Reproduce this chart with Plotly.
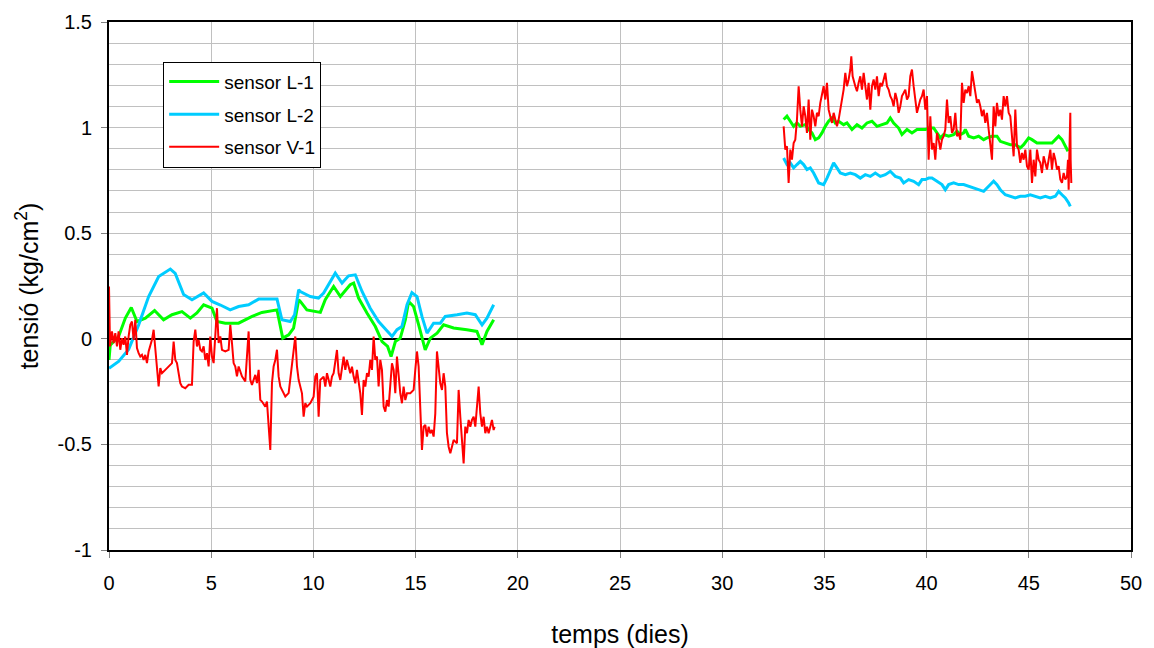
import plotly.graph_objects as go

# ---------------- data (time in days, tension in kg/cm2) ----------------
# sensor L-1 (green)
l1_a_t = [0.0, 0.06, 0.47, 0.80, 1.09, 1.37, 1.78, 2.23, 2.67, 3.08, 3.57, 3.98, 4.30, 4.63, 5.04, 5.28, 5.69, 6.34,
          7.00, 7.48, 8.22, 8.38, 8.50, 8.79, 9.03, 9.28, 9.36, 9.68, 10.34, 10.58, 10.99, 11.32, 11.80, 11.97, 12.21,
          12.62, 13.03, 13.36, 13.63, 13.80, 14.01, 14.25, 14.50, 14.66, 14.90, 15.15, 15.47, 15.72, 16.05, 16.37,
          16.86, 17.51, 18.00, 18.25, 18.49, 18.82]
l1_a_v = [-0.10, -0.03, 0.011, 0.098, 0.148, 0.082, 0.098, 0.134, 0.090, 0.114, 0.129, 0.098, 0.122, 0.161, 0.145,
          0.082, 0.074, 0.074, 0.106, 0.125, 0.137, 0.066, 0.003, 0.019, 0.051, 0.185, 0.177, 0.137, 0.125, 0.185,
          0.248, 0.200, 0.256, 0.264, 0.193, 0.122, 0.058, -0.013, -0.036, -0.084, -0.013, 0.003, 0.090, 0.177, 0.153,
          0.066, -0.052, 0.003, 0.027, 0.066, 0.051, 0.043, 0.035, -0.028, 0.035, 0.090]
l1_b_t = [33.006, 33.169, 33.332, 33.495, 33.658, 33.821, 34.066, 34.229, 34.392, 34.555, 34.718, 34.881, 35.044,
          35.207, 35.37, 35.533, 35.696, 35.941, 36.104, 36.349, 36.594, 36.838, 37.083, 37.327, 37.572, 37.817,
          38.061, 38.224, 38.387, 38.632, 38.795, 39.04, 39.284, 39.529, 39.773, 39.937, 40.1, 40.345, 40.508, 40.671,
          40.834, 41.079, 41.323, 41.486, 41.649, 41.812, 41.894, 42.057, 42.302, 42.546, 42.791, 42.954, 43.199,
          43.443, 43.606, 43.851, 44.096, 44.34, 44.585, 44.748, 44.993, 45.156, 45.4, 45.645, 45.89, 46.134, 46.297,
          46.46, 46.623, 46.786, 46.917]
l1_b_v = [1.038, 1.054, 1.030, 1.006, 1.022, 1.006, 1.014, 0.991, 0.975, 0.943, 0.951, 0.975, 1.006, 1.030, 1.046,
          1.022, 1.030, 1.014, 1.022, 0.991, 1.014, 0.998, 1.022, 1.030, 1.006, 1.014, 1.022, 1.046, 1.022, 0.998,
          0.967, 0.991, 0.975, 0.991, 0.991, 0.991, 0.998, 0.998, 0.975, 0.951, 0.967, 0.959, 0.967, 0.983, 0.967,
          0.975, 0.991, 0.959, 0.951, 0.959, 0.943, 0.951, 0.959, 0.959, 0.935, 0.927, 0.919, 0.919, 0.904, 0.919,
          0.951, 0.943, 0.927, 0.927, 0.927, 0.927, 0.943, 0.959, 0.943, 0.912, 0.888]

# sensor L-2 (light blue)
l2_a_t = [0.0, 0.47, 0.96, 1.45, 1.94, 2.43, 3.00, 3.24, 3.65, 4.06, 4.63, 5.04, 5.45, 5.93, 6.34, 6.83, 7.32, 8.22,
          8.46, 8.87, 9.08, 9.28, 9.36, 9.85, 10.25, 10.50, 11.07, 11.40, 11.72, 12.05, 12.38, 12.78, 13.19, 13.60,
          13.85, 14.09, 14.33, 14.58, 14.82, 15.07, 15.31, 15.56, 15.88, 16.21, 16.45, 17.03, 17.51, 17.92, 18.25,
          18.49, 18.82]
l2_a_v = [-0.14, -0.107, -0.05, 0.066, 0.200, 0.295, 0.330, 0.310, 0.210, 0.185, 0.217, 0.177, 0.160, 0.137, 0.153,
          0.161, 0.188, 0.188, 0.090, 0.082, 0.114, 0.232, 0.224, 0.200, 0.193, 0.217, 0.311, 0.264, 0.298, 0.303,
          0.224, 0.145, 0.082, 0.035, 0.011, 0.043, 0.058, 0.161, 0.219, 0.200, 0.106, 0.027, 0.074, 0.074, 0.106,
          0.114, 0.122, 0.114, 0.066, 0.098, 0.161]
l2_b_t = [33.006, 33.169, 33.332, 33.495, 33.658, 33.821, 33.984, 34.147, 34.31, 34.473, 34.718, 34.963, 35.126,
          35.289, 35.452, 35.615, 35.778, 36.023, 36.267, 36.512, 36.756, 37.001, 37.246, 37.49, 37.735, 37.98,
          38.224, 38.469, 38.714, 38.877, 39.121, 39.366, 39.61, 39.774, 39.937, 40.1, 40.263, 40.508, 40.752, 40.915,
          41.079, 41.323, 41.568, 41.812, 42.057, 42.302, 42.546, 42.791, 43.036, 43.28, 43.443, 43.606, 43.851,
          44.096, 44.34, 44.585, 44.83, 45.074, 45.319, 45.563, 45.808, 46.053, 46.297, 46.46, 46.623, 46.786, 46.95,
          47.031]
l2_b_v = [0.856, 0.825, 0.833, 0.809, 0.825, 0.840, 0.825, 0.801, 0.809, 0.785, 0.738, 0.730, 0.761, 0.801, 0.833,
          0.809, 0.785, 0.777, 0.785, 0.777, 0.761, 0.777, 0.769, 0.785, 0.769, 0.777, 0.793, 0.769, 0.761, 0.738,
          0.754, 0.746, 0.730, 0.754, 0.754, 0.761, 0.761, 0.746, 0.730, 0.706, 0.730, 0.738, 0.730, 0.730, 0.722,
          0.714, 0.706, 0.698, 0.722, 0.746, 0.730, 0.706, 0.682, 0.675, 0.667, 0.675, 0.675, 0.682, 0.675, 0.667,
          0.675, 0.667, 0.675, 0.698, 0.682, 0.667, 0.643, 0.627]

# sensor V-1 (red)
v1_a_t = [0.0, 0.05, 0.145, 0.227, 0.308, 0.39, 0.471, 0.553, 0.634, 0.716, 0.797, 0.879, 0.96, 1.042, 1.124, 1.205,
          1.287, 1.368, 1.45, 1.531, 1.613, 1.694, 1.776, 1.857, 1.939, 2.102, 2.184, 2.265, 2.347, 2.428, 2.51, 2.591,
          2.754, 2.918, 3.081, 3.162, 3.244, 3.325, 3.407, 3.488, 3.57, 3.733, 3.896, 4.059, 4.141, 4.222, 4.304,
          4.385, 4.467, 4.548, 4.63, 4.711, 4.793, 4.874, 4.956, 5.037, 5.119, 5.2, 5.282, 5.364, 5.445, 5.527, 5.69,
          5.853, 5.934, 6.016, 6.097, 6.179, 6.26, 6.342, 6.505, 6.668, 6.831, 6.913, 6.994, 7.158, 7.239, 7.321,
          7.402, 7.484, 7.647, 7.728, 7.81, 7.891, 7.973, 8.054, 8.136, 8.218, 8.299, 8.381, 8.462, 8.625, 8.788,
          8.951, 9.033, 9.114, 9.196, 9.278, 9.441, 9.522, 9.604, 9.685, 9.848, 10.011, 10.093, 10.174, 10.256,
          10.337, 10.501, 10.582, 10.664, 10.827, 10.908, 10.99, 11.153, 11.234, 11.316, 11.397, 11.479, 11.561,
          11.642, 11.805, 11.887, 11.968, 12.05, 12.131, 12.213, 12.294, 12.376, 12.457, 12.539, 12.621, 12.702,
          12.784, 12.865, 12.947, 13.028, 13.11, 13.191, 13.273, 13.354, 13.436, 13.518, 13.599, 13.681, 13.762,
          13.844, 13.925, 14.007, 14.088, 14.17, 14.251, 14.333, 14.414, 14.496, 14.578, 14.741, 14.904, 14.985,
          15.067, 15.148, 15.23, 15.311, 15.393, 15.474, 15.556, 15.638, 15.719, 15.801, 15.882, 15.964, 16.045,
          16.127, 16.208, 16.29, 16.371, 16.453, 16.534, 16.616, 16.698, 16.779, 16.861, 17.024, 17.105, 17.187,
          17.268, 17.35, 17.431, 17.513, 17.595, 17.676, 17.758, 17.839, 17.921, 18.002, 18.084, 18.165, 18.247,
          18.328, 18.41, 18.491, 18.573, 18.654, 18.736, 18.818, 18.867]
v1_a_v = [0.248, -0.036, 0.035, -0.020, 0.027, -0.036, 0.035, -0.052, 0.003, -0.028, 0.011, -0.076, 0.011, 0.066,
          0.082, -0.005, 0.090, -0.044, -0.068, -0.084, -0.076, -0.100, -0.076, -0.115, -0.060, -0.005, 0.043, -0.036,
          -0.131, -0.226, -0.139, -0.163, -0.147, -0.131, -0.115, -0.013, -0.100, -0.115, -0.171, -0.210, -0.226,
          -0.234, -0.218, -0.218, -0.013, 0.043, -0.036, -0.005, -0.052, -0.060, -0.036, -0.100, -0.068, -0.131, 0.011,
          -0.084, -0.115, -0.005, 0.145, -0.020, 0.011, -0.052, -0.060, -0.052, 0.066, -0.020, -0.115, -0.131, -0.178,
          -0.131, -0.178, -0.202, 0.035, -0.194, -0.218, -0.171, -0.210, -0.147, -0.289, -0.297, -0.321, -0.297,
          -0.431, -0.526, -0.210, -0.131, -0.100, -0.052, -0.178, -0.226, -0.242, -0.273, -0.257, -0.115, -0.052,
          0.011, -0.131, -0.194, -0.258, -0.369, -0.305, -0.321, -0.305, -0.274, -0.179, -0.163, -0.369, -0.195,
          -0.179, -0.226, -0.163, -0.226, -0.179, -0.163, -0.053, -0.163, -0.195, -0.132, -0.084, -0.147, -0.100,
          -0.163, -0.132, -0.179, -0.211, -0.147, -0.195, -0.258, -0.361, -0.195, -0.226, -0.163, -0.179, -0.100,
          -0.147, 0.011, -0.100, -0.084, -0.226, -0.100, -0.147, -0.321, -0.345, -0.290, -0.321, -0.226, -0.116,
          -0.147, -0.258, -0.084, -0.179, -0.258, -0.305, -0.226, -0.290, -0.258, -0.258, -0.242, -0.147, -0.060,
          -0.132, -0.384, -0.526, -0.416, -0.408, -0.463, -0.416, -0.447, -0.432, -0.463, -0.353, -0.060, -0.147,
          -0.211, -0.242, -0.163, -0.226, -0.447, -0.511, -0.542, -0.511, -0.479, -0.495, -0.242, -0.369, -0.511,
          -0.590, -0.416, -0.447, -0.384, -0.416, -0.384, -0.369, -0.416, -0.321, -0.226, -0.353, -0.416, -0.369,
          -0.447, -0.416, -0.447, -0.416, -0.384, -0.432, -0.416]
v1_b_t = [33.006, 33.087, 33.169, 33.25, 33.332, 33.413, 33.495, 33.576, 33.658, 33.74, 33.821, 33.903, 33.984,
          34.066, 34.147, 34.229, 34.31, 34.392, 34.473, 34.555, 34.636, 34.718, 34.8, 34.881, 34.963, 35.044,
          35.126, 35.207, 35.289, 35.37, 35.452, 35.533, 35.615, 35.696, 35.778, 35.86, 35.941, 36.023, 36.104,
          36.186, 36.267, 36.316, 36.381, 36.512, 36.594, 36.675, 36.756, 36.838, 36.92, 37.001, 37.083, 37.164,
          37.246, 37.327, 37.409, 37.49, 37.572, 37.654, 37.735, 37.817, 37.898, 37.98, 38.061, 38.143, 38.224,
          38.306, 38.387, 38.469, 38.55, 38.632, 38.714, 38.795, 38.877, 38.958, 39.04, 39.121, 39.203, 39.284,
          39.366, 39.447, 39.529, 39.61, 39.692, 39.773, 39.855, 39.937, 40.018, 40.1, 40.182, 40.263, 40.345,
          40.426, 40.508, 40.589, 40.671, 40.752, 40.834, 40.915, 40.997, 41.079, 41.16, 41.242, 41.323, 41.405,
          41.486, 41.568, 41.649, 41.731, 41.812, 41.894, 41.975, 42.057, 42.139, 42.22, 42.302, 42.383, 42.465,
          42.546, 42.628, 42.709, 42.791, 42.872, 42.954, 43.036, 43.117, 43.199, 43.28, 43.362, 43.443, 43.525,
          43.606, 43.688, 43.769, 43.851, 43.933, 44.014, 44.096, 44.177, 44.259, 44.34, 44.422, 44.503, 44.585,
          44.666, 44.748, 44.83, 44.911, 44.993, 45.074, 45.156, 45.237, 45.319, 45.4, 45.482, 45.563, 45.645,
          45.726, 45.808, 45.89, 45.971, 46.053, 46.134, 46.216, 46.297, 46.379, 46.46, 46.542, 46.623, 46.705,
          46.786, 46.868, 46.917, 46.95, 46.982, 47.031, 47.047, 47.08]
v1_b_v = [1.006, 0.896, 0.912, 0.738, 0.896, 0.848, 0.927, 0.943, 1.038, 1.196, 1.085, 1.006, 1.101, 1.054, 0.975,
          1.133, 0.943, 1.085, 1.054, 1.006, 1.070, 1.054, 1.117, 1.164, 1.196, 1.133, 1.212, 1.085, 1.054, 1.022,
          1.070, 1.030, 1.006, 1.038, 1.085, 1.149, 1.180, 1.259, 1.196, 1.228, 1.275, 1.338, 1.243, 1.196, 1.172,
          1.212, 1.243, 1.180, 1.259, 1.196, 1.133, 1.212, 1.085, 1.196, 1.228, 1.180, 1.243, 1.149, 1.212, 1.196,
          1.228, 1.259, 1.196, 1.180, 1.149, 1.133, 1.101, 1.164, 1.133, 1.070, 1.101, 1.149, 1.164, 1.180, 1.133,
          1.149, 1.243, 1.275, 1.196, 1.117, 1.070, 1.101, 1.133, 1.149, 1.180, 1.085, 1.149, 0.848, 1.054, 0.896,
          0.927, 0.848, 0.975, 0.943, 0.896, 0.943, 0.959, 0.991, 1.133, 1.022, 1.054, 0.975, 0.991, 1.070, 0.959,
          0.975, 0.943, 1.212, 1.117, 1.180, 1.164, 1.196, 1.149, 1.267, 1.212, 1.149, 1.117, 1.133, 1.101, 1.054,
          1.085, 1.022, 1.070, 0.991, 0.927, 0.848, 1.101, 1.006, 1.117, 1.054, 1.085, 1.038, 1.149, 1.101, 1.149,
          1.070, 1.054, 0.959, 0.864, 1.085, 0.912, 0.896, 0.833, 0.880, 0.848, 0.896, 0.817, 0.801, 0.896, 0.738,
          0.848, 0.769, 0.896, 0.848, 0.833, 0.785, 0.864, 0.833, 0.801, 0.848, 0.896, 0.801, 0.880, 0.848, 0.801,
          0.817, 0.754, 0.738, 0.785, 0.754, 0.769, 0.848, 0.706, 0.864, 1.070, 0.848, 0.738]

series_names = ["sensor L-1", "sensor L-2", "sensor V-1"]
series_colors = ["#00FF00", "#00CCFF", "#FF0000"]

y_tickvals = [-1, -0.5, 0, 0.5, 1, 1.5]
y_ticktext = ["-1", "-0.5", "0", "0.5", "1", "1.5"]
x_tickvals = [0, 5, 10, 15, 20, 25, 30, 35, 40, 45, 50]


def joined(a_t, a_v, b_t, b_v):
    return a_t + [None] + b_t, a_v + [None] + b_v


FONT = "Liberation Sans, Arial, sans-serif"

fig = go.Figure()
data_sets = [
    joined(l1_a_t, l1_a_v, l1_b_t, l1_b_v),
    joined(l2_a_t, l2_a_v, l2_b_t, l2_b_v),
    joined(v1_a_t, v1_a_v, v1_b_t, v1_b_v),
]
widths = [3, 3, 2]
for i, ((xs, ys), name, col, w) in enumerate(zip(data_sets, series_names, series_colors, widths)):
    fig.add_trace(go.Scatter(x=xs, y=ys, mode="lines", name=name, legendgroup="g%d" % i,
                             line=dict(color=col, width=w), connectgaps=False))

fig.update_layout(
    width=1154, height=648,
    margin=dict(l=109, r=23, t=22, b=98, autoexpand=False),
    paper_bgcolor="white", plot_bgcolor="white",
    font=dict(family=FONT, size=20, color="black"),
    showlegend=True,
    legend=dict(x=0.053, y=0.925, xanchor="left", yanchor="top",
                bgcolor="white", bordercolor="black", borderwidth=1,
                font=dict(family=FONT, size=19, color="black"),
                traceorder="grouped", tracegroupgap=5, itemwidth=50),
    xaxis=dict(range=[0, 50], tickmode="array", tickvals=x_tickvals, automargin=False,
               showgrid=True, gridcolor="#C0C0C0", gridwidth=1,
               zeroline=False, showline=True, mirror=True, linecolor="black", linewidth=2,
               ticks="outside", ticklen=6, tickcolor="#808080", tickwidth=1,
               ticklabelstandoff=8,
               tickfont=dict(family=FONT, size=20, color="black"),
               title=dict(text="temps (dies)", font=dict(family=FONT, size=25, color="black"), standoff=36)),
    yaxis=dict(range=[-1, 1.5], tickmode="array", tickvals=y_tickvals, ticktext=y_ticktext, automargin=False,
               showgrid=True, gridcolor="#C0C0C0", gridwidth=1,
               minor=dict(dtick=0.1, tick0=0, showgrid=True, gridcolor="#C0C0C0", gridwidth=1, ticks=""),
               zeroline=True, zerolinecolor="black", zerolinewidth=1.5,
               showline=True, mirror=True, linecolor="black", linewidth=2,
               ticks="outside", ticklen=6, tickcolor="#808080", tickwidth=1,
               ticklabelstandoff=5,
               tickfont=dict(family=FONT, size=20, color="black"),
               title=dict(text="tensió (kg/cm<sup>2</sup>)", font=dict(family=FONT, size=25, color="black"),
                          standoff=12)),
)

fig.write_html("out.html", config={"displayModeBar": False},
               post_script="document.body.style.margin='0';document.body.style.overflow='hidden';")
